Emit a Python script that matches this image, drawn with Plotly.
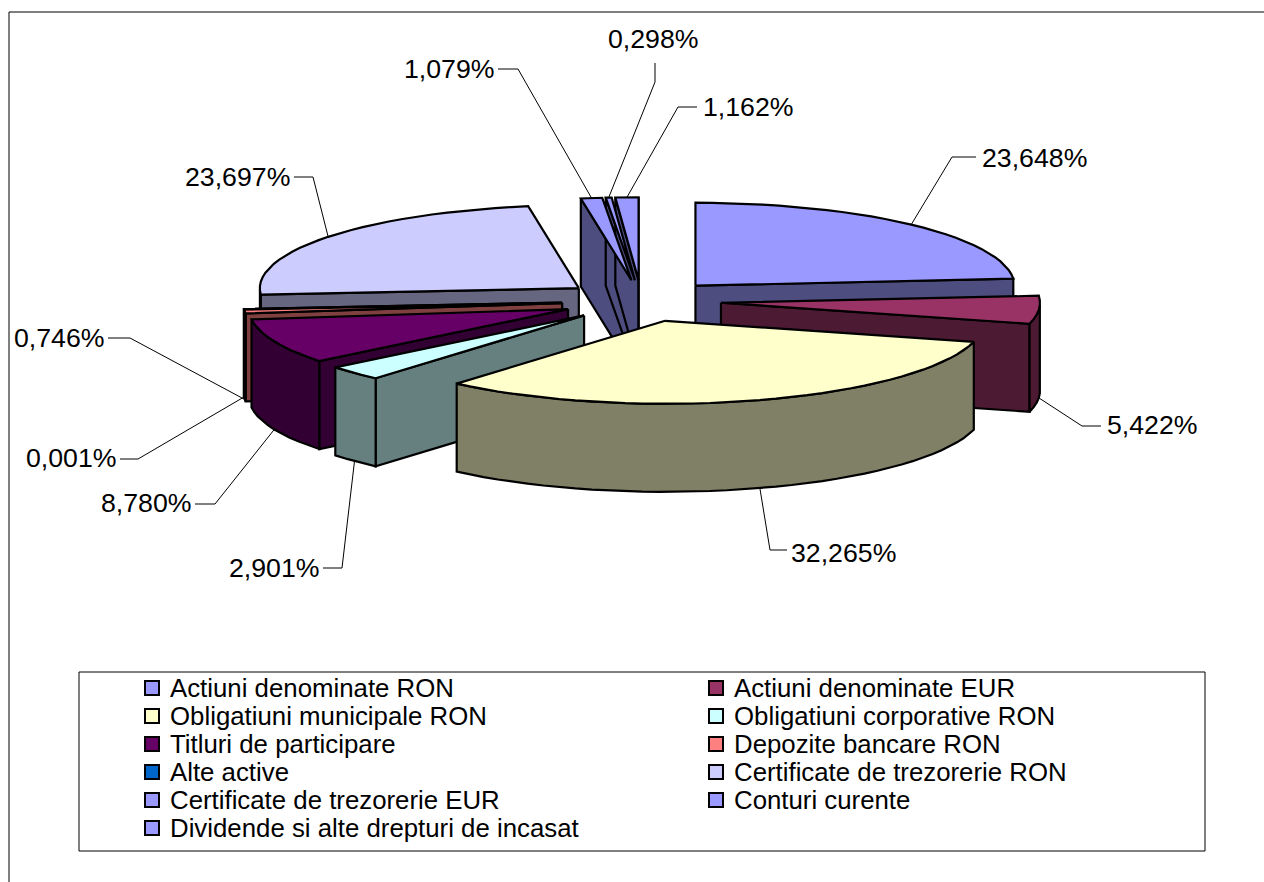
import math
import plotly.graph_objects as go

# ---- data ----
categories = ["Actiuni denominate RON", "Actiuni denominate EUR", "Obligatiuni municipale RON",
              "Obligatiuni corporative RON", "Titluri de participare", "Depozite bancare RON",
              "Alte active", "Certificate de trezorerie RON", "Certificate de trezorerie EUR",
              "Conturi curente", "Dividende si alte drepturi de incasat"]
values = [23.648, 5.422, 32.265, 2.901, 8.780, 0.746, 0.001, 23.697, 1.079, 0.298, 1.162]
labels = ["23,648%", "5,422%", "32,265%", "2,901%", "8,780%", "0,746%", "0,001%",
          "23,697%", "1,079%", "0,298%", "1,162%"]
top_colors = ["#9999FF", "#993366", "#FFFFCC", "#CCFFFF", "#660066", "#FF8080",
              "#0066CC", "#CCCCFF", "#9999FF", "#9999FF", "#9999FF"]
wall_colors = ["#4D4D80", "#4D1A33", "#808066", "#668080", "#330033", "#804040",
               "#003366", "#666680", "#4D4D80", "#4D4D80", "#4D4D80"]

# ---- 3D pie projection ----
CX, CY = 641.5, 301.0
RX, RY = 319.0, 83.0
EXPLODE = 0.25
DEPTH = 88.0
# slices are painted back to front; a group's walls all go under its tops
draw_groups = [[7], [8, 9, 10], [0], [1], [6], [5], [4], [3], [2]]

# label text position (anchor x, y, xanchor), leader elbow and start, whether the leader ends on the wall bottom
label_pos = [
    (1089, 158, "right", (952, 157), (976, 157), False),
    (1200, 425, "right", (1082, 426), (1101, 426), True),
    (898, 553, "right", (770, 550), (787, 550), True),
    (322, 568, "right", (342, 568), (323, 568), True),
    (194, 503, "right", (215, 504), (195, 504), True),
    (107, 338, "right", (130, 338), (108, 338), True),
    (119, 458, "right", (138, 459), (120, 459), True),
    (292, 177, "right", (313, 177), (294, 177), False),
    (497, 69, "right", (518, 69), (498, 69), False),
    (701, 39, "right", (655, 82), (655, 63), False),
    (796, 107, "right", (678, 107), (697, 107), False),
]
legend_x = [152, 716]
legend_y0, legend_dy = 688, 28

total = sum(values)
edges = [0.0]
for v in values:
    edges.append(edges[-1] + v / total * 360.0)


def px(deg, r=1.0):
    t = math.radians(deg)
    return RX * r * math.sin(t), -RY * r * math.cos(t)


def poly(fig, xs, ys, fill, width=2.2, name=None):
    fig.add_trace(go.Scatter(x=xs + xs[:1], y=ys + ys[:1], mode="lines", fill="toself",
                             fillcolor=fill, line=dict(color="#000000", width=width, shape="linear"),
                             hoverinfo="text" if name else "skip", text=name, showlegend=False))


fig = go.Figure()
vertices, mids = [], []
for i in range(len(values)):
    mid = (edges[i] + edges[i + 1]) / 2
    dx, dy = px(mid, EXPLODE)
    vertices.append((CX + dx, CY + dy))
    mids.append(mid)


def rim_of(i):
    a, b = edges[i], edges[i + 1]
    vx, vy = vertices[i]
    n = max(2, int((b - a) / 3) + 1)
    angles = [a + (b - a) * k / (n - 1) for k in range(n)]
    return angles, [(vx + px(t)[0], vy + px(t)[1]) for t in angles]


for group in draw_groups:
    for i in group:
        a, b = edges[i], edges[i + 1]
        vx, vy = vertices[i]
        angles, rim = rim_of(i)
        if math.sin(math.radians(a)) < 0:
            xa, ya = rim[0]
            poly(fig, [vx, xa, xa, vx], [vy, ya, ya + DEPTH, vy + DEPTH], wall_colors[i])
        if math.sin(math.radians(b)) > 0:
            xb, yb = rim[-1]
            poly(fig, [vx, xb, xb, vx], [vy, yb, yb + DEPTH, vy + DEPTH], wall_colors[i])
        front = [p for p, t in zip(rim, angles) if 90 <= t <= 270]
        if len(front) >= 2:
            xs = [p[0] for p in front] + [p[0] for p in reversed(front)]
            ys = [p[1] for p in front] + [p[1] + DEPTH for p in reversed(front)]
            poly(fig, xs, ys, wall_colors[i])
    for i in group:
        vx, vy = vertices[i]
        _, rim = rim_of(i)
        poly(fig, [vx] + [p[0] for p in rim], [vy] + [p[1] for p in rim], top_colors[i],
             name=f"{categories[i]}: {labels[i]}")

# leader lines and data labels
annotations = []
for i, (tx, ty, anchor, elbow, start, on_wall) in enumerate(label_pos):
    vx, vy = vertices[i]
    ex, ey = px(mids[i])
    end = (vx + ex, vy + ey + (DEPTH if on_wall else 0))
    fig.add_trace(go.Scatter(x=[start[0], elbow[0], end[0]], y=[start[1], elbow[1], end[1]],
                             mode="lines", line=dict(color="#000000", width=1),
                             hoverinfo="skip", showlegend=False))
    annotations.append(dict(x=tx, y=ty, text=labels[i], xanchor=anchor, yanchor="middle",
                            showarrow=False, xref="x", yref="y",
                            font=dict(family="Liberation Sans", size=26.7, color="#000000")))

# legend box contents
for i, name in enumerate(categories):
    col, row = i % 2, i // 2
    x, y = legend_x[col], legend_y0 + row * legend_dy
    fig.add_trace(go.Scatter(x=[x], y=[y], mode="markers",
                             marker=dict(symbol="square", size=14, color=top_colors[i],
                                         line=dict(color="#000000", width=2)),
                             hoverinfo="skip", showlegend=False))
    annotations.append(dict(x=x + 16, y=y, text=name, xanchor="left", yanchor="middle",
                            showarrow=False, xref="x", yref="y",
                            font=dict(family="Liberation Sans", size=25.8, color="#000000")))

shapes = [
    dict(type="line", x0=9, x1=1264, y0=12, y1=12, line=dict(color="#000000", width=1), xref="x", yref="y"),
    dict(type="line", x0=9, x1=9, y0=12, y1=882, line=dict(color="#000000", width=1), xref="x", yref="y"),
    dict(type="rect", x0=79, x1=1205, y0=672, y1=851, line=dict(color="#000000", width=1), xref="x", yref="y"),
]

fig.update_layout(width=1264, height=882, margin=dict(l=0, r=0, t=0, b=0),
                  paper_bgcolor="#FFFFFF", plot_bgcolor="#FFFFFF", showlegend=False,
                  xaxis=dict(range=[0, 1264], visible=False, fixedrange=True),
                  yaxis=dict(range=[882, 0], visible=False, fixedrange=True),
                  annotations=annotations, shapes=shapes)
fig.write_html("out.html", config={"displayModeBar": False},
               post_script="document.body.style.margin='0';document.body.style.overflow='hidden';")
